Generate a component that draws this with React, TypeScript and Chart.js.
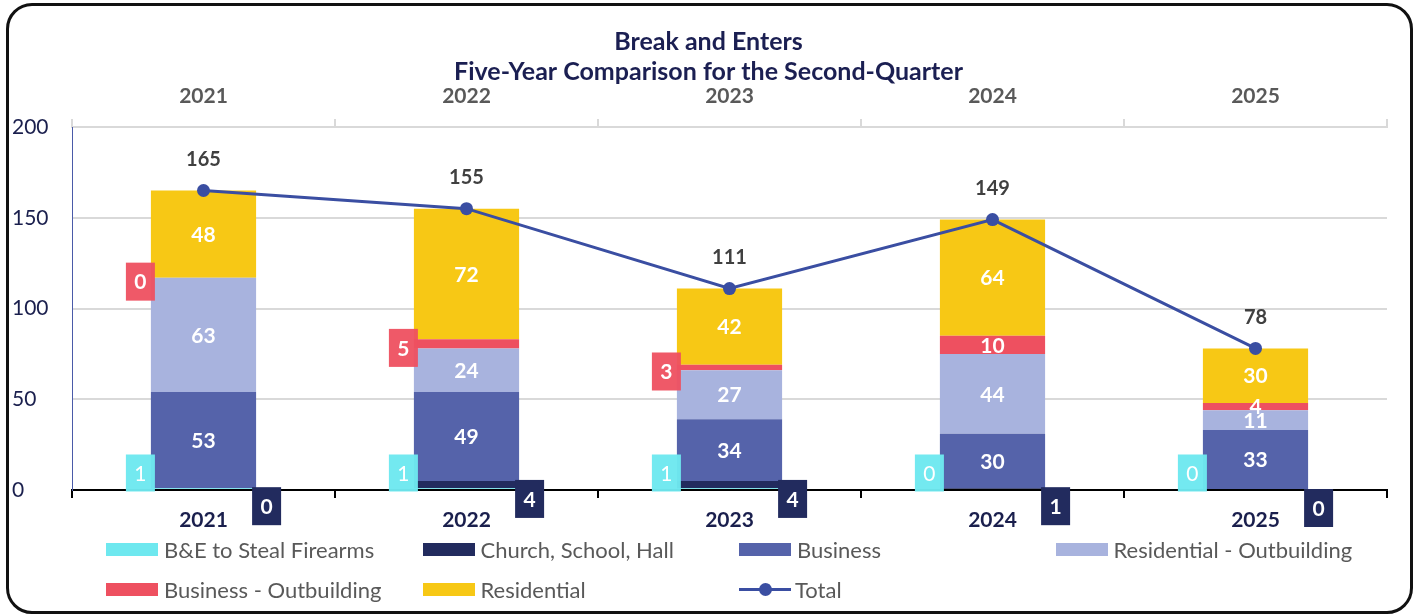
import React, { useEffect, useRef } from 'react';
import { Chart, registerables } from 'chart.js';

Chart.register(...registerables);

const years = ['2021', '2022', '2023', '2024', '2025'];
const seriesNames = [
  'B&E to Steal Firearms',
  'Church, School, Hall',
  'Business',
  'Residential - Outbuilding',
  'Business - Outbuilding',
  'Residential',
  'Total',
];
const firearms = [1, 1, 1, 0, 0];
const church = [0, 4, 4, 1, 0];
const business = [53, 49, 34, 30, 33];
const resOut = [63, 24, 27, 44, 11];
const busOut = [0, 5, 3, 10, 4];
const residential = [48, 72, 42, 64, 30];
const total = [165, 155, 111, 149, 78];
const titleLines = ['Break and Enters', 'Five-Year Comparison for the Second-Quarter'];

const COLORS = ['#6EE8EF', '#222B5E', '#5563AA', '#A8B3DE', '#EE5060', '#F7C815', '#3A4EA2'];
const FONT = 'Lato, "Open Sans", sans-serif';
// which Business - Outbuilding labels sit in a callout box beside the bar
const busOutBoxed = [true, true, true, false, false];

function drawBox(ctx: CanvasRenderingContext2D, left: number, top: number, w: number, h: number, fill: string, text: string, bold: boolean) {
  ctx.fillStyle = fill;
  ctx.fillRect(left, top, w, h);
  ctx.fillStyle = '#ffffff';
  ctx.font = `${bold ? 'bold ' : ''}21px ${FONT}`;
  ctx.textAlign = 'center';
  ctx.textBaseline = 'middle';
  ctx.fillText(text, left + w / 2, top + h / 2 + 1);
}

const labelPlugin = {
  id: 'customLabels',
  afterDatasetsDraw(chart: any) {
    const ctx: CanvasRenderingContext2D = chart.ctx;
    const y0 = chart.scales.y.getPixelForValue(0);
    ctx.save();
    chart.data.datasets.forEach((ds: any, di: number) => {
      const meta = chart.getDatasetMeta(di);
      meta.data.forEach((el: any, i: number) => {
        const v = ds.data[i];
        const p = el.getProps(['x', 'y', 'base', 'width'], true);
        const left = p.x - p.width / 2;
        const right = p.x + p.width / 2;
        const mid = (p.y + p.base) / 2;
        const kind = ds.labelKind;
        if (kind === 'firearms') {
          drawBox(ctx, left + 4 - 29, y0 - 17 - 18.5, 29, 37, 'rgba(110,232,239,0.97)', String(v), false);
        } else if (kind === 'church') {
          drawBox(ctx, right - 4, p.y - 1, 29, 38, COLORS[1], String(v), true);
        } else if (kind === 'busOut' && busOutBoxed[i]) {
          drawBox(ctx, left + 4 - 29, mid + 4 - 19, 29, 38, 'rgba(238,80,96,0.95)', String(v), true);
        } else if (kind === 'inside' || kind === 'busOut') {
          ctx.fillStyle = '#ffffff';
          ctx.font = `bold 21px ${FONT}`;
          ctx.textAlign = 'center';
          ctx.textBaseline = 'middle';
          ctx.fillText(String(v), p.x, mid + 1);
        } else if (kind === 'total') {
          ctx.fillStyle = '#404040';
          ctx.font = `bold 20px ${FONT}`;
          ctx.textAlign = 'center';
          ctx.textBaseline = 'middle';
          ctx.fillText(String(v), p.x, p.y - 31);
        }
      });
    });
    ctx.restore();
  },
  afterDraw(chart: any) {
    const ctx: CanvasRenderingContext2D = chart.ctx;
    ctx.save();
    ctx.fillStyle = '#1B1F52';
    ctx.font = `bold 25px ${FONT}`;
    ctx.textAlign = 'center';
    ctx.textBaseline = 'middle';
    ctx.fillText(titleLines[0], chart.width / 2, 42);
    ctx.fillText(titleLines[1], chart.width / 2, 72);
    ctx.restore();
  },
};

export default function App() {
  const ref = useRef<HTMLCanvasElement>(null);
  useEffect(() => {
    document.body.style.margin = '0';
    const canvas = ref.current!;
    const barSets = [firearms, church, business, resOut, busOut, residential];
    const kinds = ['firearms', 'church', 'inside', 'inside', 'busOut', 'inside'];
    const datasets: any[] = barSets.map((d, i) => ({
      type: 'bar',
      label: seriesNames[i],
      data: d,
      backgroundColor: COLORS[i],
      borderWidth: 0,
      stack: 'bars',
      order: 1,
      categoryPercentage: 1,
      barPercentage: 0.4,
      labelKind: kinds[i],
    }));
    datasets.push({
      type: 'line',
      label: seriesNames[6],
      data: total,
      borderColor: COLORS[6],
      backgroundColor: COLORS[6],
      borderWidth: 3,
      pointRadius: 6.5,
      pointBackgroundColor: COLORS[6],
      pointBorderWidth: 0,
      stack: 'total',
      order: 0,
      labelKind: 'total',
    });
    const chart = new Chart(canvas, {
      type: 'bar',
      data: { labels: years, datasets },
      plugins: [labelPlugin],
      options: {
        responsive: false,
        animation: false,
        layout: { padding: { left: 12, right: 30, top: 0, bottom: 0 } },
        plugins: { legend: { display: false }, tooltip: { enabled: false }, title: { display: false } },
        scales: {
          x: {
            type: 'category',
            position: 'bottom',
            stacked: true,
            offset: true,
            grid: { offset: true, drawOnChartArea: false, drawTicks: true, tickLength: 8, color: '#000000', lineWidth: 2 },
            border: { color: '#000000', width: 2 },
            ticks: { color: '#1A1F4D', font: { family: FONT, size: 21, weight: 'bold' }, padding: 10 },
            afterFit: (s: any) => { s.height = 126; },
          },
          x2: {
            type: 'category',
            position: 'top',
            labels: years,
            offset: true,
            grid: { offset: true, drawOnChartArea: false, drawTicks: true, tickLength: 8, color: '#D9D9D9', lineWidth: 2 },
            border: { color: '#D9D9D9', width: 2 },
            ticks: { color: '#595959', font: { family: FONT, size: 21, weight: 'bold' }, padding: 10 },
            afterFit: (s: any) => { s.height = 127; },
          },
          y: {
            stacked: true,
            min: 0,
            max: 200,
            ticks: { stepSize: 50, crossAlign: 'far', color: '#1A1F4D', font: { family: FONT, size: 21 } },
            grid: { color: '#D9D9D9', lineWidth: 2, drawTicks: false },
            border: { color: '#4A5AA8', width: 1 },
            afterFit: (s: any) => { s.width = 60; },
          },
        },
      } as any,
    });
    return () => chart.destroy();
  }, []);

  const legendRows = [[0, 1, 2, 3], [4, 5, 6]];
  return (
    <div style={{ position: 'fixed', left: 0, top: 0, width: 1417, height: 616, background: '#fff', overflow: 'hidden' }}>
      <canvas ref={ref} width={1417} height={616} style={{ position: 'absolute', left: 0, top: 0 }} />
      <div style={{ position: 'absolute', left: 6, top: 3, width: 1407, height: 611, boxSizing: 'border-box', border: '3px solid #111', borderRadius: 26, pointerEvents: 'none' }} />
      {legendRows.map((row, r) =>
        row.map((idx, c) => (
          <div key={idx} style={{ position: 'absolute', left: 106 + c * 316.5, top: 536 + r * 40, height: 26, display: 'flex', alignItems: 'center', fontFamily: FONT, fontSize: 22, color: '#595959', whiteSpace: 'nowrap' }}>
            {idx < 6 ? (
              <span style={{ display: 'inline-block', width: 52, height: 13, background: COLORS[idx], marginRight: 6 }} />
            ) : (
              <span style={{ position: 'relative', display: 'inline-block', width: 52, height: 13, marginRight: 4 }}>
                <span style={{ position: 'absolute', left: 0, top: 5, width: 52, height: 3, background: COLORS[6] }} />
                <span style={{ position: 'absolute', left: 20, top: 0, width: 13, height: 13, borderRadius: '50%', background: COLORS[6] }} />
              </span>
            )}
            {seriesNames[idx]}
          </div>
        ))
      )}
    </div>
  );
}
